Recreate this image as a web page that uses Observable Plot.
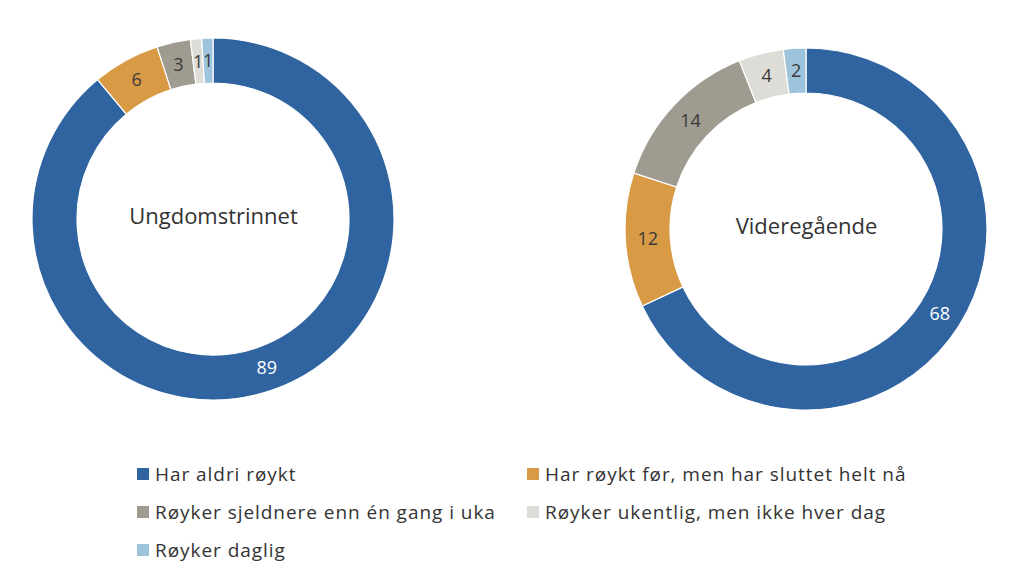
<!DOCTYPE html>
<html><head><meta charset="utf-8">
<script src="https://cdn.jsdelivr.net/npm/d3@7"></script>
<script src="https://cdn.jsdelivr.net/npm/@observablehq/plot@0.6"></script>
<style>
body{margin:0;background:#fff;font-family:"Open Sans",sans-serif;color:#333;}
#legend{display:grid;grid-template-columns:390px 420px;margin-left:137px;padding-top:5px;font-size:19px;line-height:38px;letter-spacing:0.95px;}
#legend .item{display:flex;align-items:center;white-space:nowrap;}
#legend .sw{width:12px;height:12px;margin-right:6px;flex:none;}
</style></head><body><div id="chart"></div><div id="legend"></div><script>
const groups = ["Ungdomstrinnet", "Videregående"];
const categories = [
  "Har aldri røykt",
  "Har røykt før, men har sluttet helt nå",
  "Røyker sjeldnere enn én gang i uka",
  "Røyker ukentlig, men ikke hver dag",
  "Røyker daglig"
];
const ungdomstrinnet = [89, 6, 3, 1, 1];
const videregaende = [68, 12, 14, 4, 2];
const colors = ["#2f64a0", "#d89a45", "#a09b91", "#dedcd6", "#9ec4dc"];

const seriesByGroup = [ungdomstrinnet, videregaende];
const rows = groups.flatMap((g, gi) => categories.map((c, ci) => ({group: g, category: c, value: seriesByGroup[gi][ci]})));

function donutRender(index, scales, values) {
  const g = d3.create("svg:g");
  const arc = d3.arc().innerRadius(136).outerRadius(181);
  const byGroup = d3.group(index, i => rows[i].group);
  for (const [grp, idx] of byGroup) {
    const cx = values.x[idx[0]], cy = values.y[idx[0]];
    const pie = d3.pie().sort(null).value(i => rows[i].value)(idx);
    const gg = g.append("g").attr("transform", `translate(${cx},${cy})`);
    gg.selectAll("path").data(pie).join("path")
      .attr("d", arc)
      .attr("fill", d => values.fill[d.data])
      .attr("stroke", "#fff").attr("stroke-width", 1.2);
    gg.selectAll("text").data(pie).join("text")
      .attr("transform", d => `translate(${arc.centroid(d)})`)
      .attr("text-anchor", "middle").attr("dy", "0.35em")
      .attr("font-size", 18)
      .attr("fill", d => rows[d.data].category === categories[0] ? "#fff" : "#3a3a3a")
      .text(d => rows[d.data].value);
  }
  return g.node();
}

const chart = Plot.plot({
  width: 1023, height: 450, margin: 0,
  style: {fontFamily: "'Open Sans', sans-serif", background: "#fff"},
  x: {type: "point", domain: groups, range: [213, 806], padding: 0, axis: null},
  y: {type: "point", domain: groups, range: [219, 229], padding: 0, axis: null},
  color: {domain: categories, range: colors},
  marks: [
    Plot.dot(rows, {x: "group", y: "group", fill: "category", render: donutRender}),
    Plot.text(groups, {x: d => d, y: d => d, dy: -3, text: d => d, fontSize: 22, fill: "#333", style: "letter-spacing:1.2px"})
  ]
});
document.getElementById("chart").appendChild(chart);

const legend = document.getElementById("legend");
categories.forEach((c, i) => {
  const it = document.createElement("div");
  it.className = "item";
  const sw = document.createElement("span");
  sw.className = "sw";
  sw.style.background = colors[i];
  it.appendChild(sw);
  it.appendChild(document.createTextNode(c));
  legend.appendChild(it);
});
</script></body></html>
